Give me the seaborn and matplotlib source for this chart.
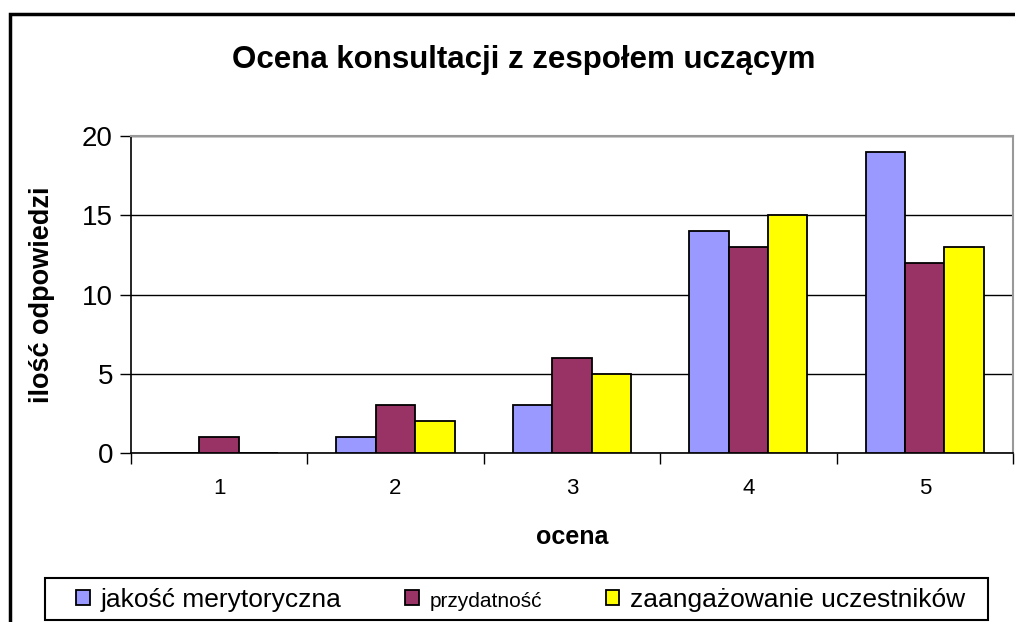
import pandas as pd
import matplotlib
matplotlib.use("Agg")
import matplotlib.pyplot as plt
import matplotlib.patches as mpatches
from matplotlib.ticker import FixedLocator
import seaborn as sns

# data
oceny = ['1', '2', '3', '4', '5']
jakosc = [0, 1, 3, 14, 19]
przydatnosc = [1, 3, 6, 13, 12]
zaangazowanie = [0, 2, 5, 15, 13]
serie = ['jakość merytoryczna', 'przydatność', 'zaangażowanie uczestników']
kolory = ['#9999FF', '#993366', '#FFFF00']

df = pd.DataFrame({
    'ocena': oceny * 3,
    'seria': [s for s in serie for _ in oceny],
    'ilosc': jakosc + przydatnosc + zaangazowanie,
})

sns.set_style('white')
plt.rcParams['font.family'] = ['Liberation Sans', 'DejaVu Sans']
plt.rcParams['text.color'] = 'black'
plt.rcParams['axes.labelcolor'] = 'black'
plt.rcParams['xtick.color'] = 'black'
plt.rcParams['ytick.color'] = 'black'

W, H = 1015, 622
fig = plt.figure(figsize=(W / 100, H / 100), dpi=100)
ax = fig.add_axes([0.129, 0.272, 0.869, 0.509])

sns.barplot(data=df, x='ocena', y='ilosc', hue='seria', order=oceny,
            hue_order=serie, palette=kolory, width=0.67,
            edgecolor='black', linewidth=1.3, saturation=1, ax=ax, zorder=3)

ax.set_ylim(0, 20)
ax.set_xlim(-0.5, 4.5)
ax.set_yticks([0, 5, 10, 15, 20])
ax.yaxis.grid(True, color='black', linewidth=1, zorder=0)
ax.set_axisbelow(True)
ax.tick_params(axis='y', labelsize=20, length=8, width=1, direction='out', pad=5, left=True)
ax.tick_params(axis='x', which='major', labelsize=16, length=0, pad=18)
# tick marks sit between the categories
ax.xaxis.set_minor_locator(FixedLocator([-0.5, 0.5, 1.5, 2.5, 3.5, 4.5]))
ax.tick_params(axis='x', which='minor', length=8, width=1, direction='out', bottom=True)
ax.xaxis.set_ticks_position('bottom')

for side in ['left', 'bottom']:
    ax.spines[side].set_color('black')
    ax.spines[side].set_linewidth(1.2)
for side in ['top', 'right']:
    ax.spines[side].set_color('#999999')
    ax.spines[side].set_linewidth(1.5)
    ax.spines[side].set_visible(True)

ax.set_xlabel('ocena', fontsize=18, fontweight='bold', labelpad=19)
ax.set_ylabel('ilość odpowiedzi', fontsize=19.5, fontweight='bold', labelpad=19)

fig.suptitle('Ocena konsultacji z zespołem uczącym', fontsize=22.5,
             fontweight='bold', y=0.928, x=0.516)

# legend at the bottom, box drawn separately (Excel style padding)
ax.get_legend().remove()
handles = [mpatches.Patch(facecolor=c, edgecolor='black', linewidth=1.3) for c in kolory]
leg = fig.legend(handles, serie, loc='center left', ncol=3,
                 bbox_to_anchor=(76 / W, 1 - 600 / H),
                 frameon=False, handlelength=0.52, handleheight=0.52,
                 handletextpad=0.42, columnspacing=2.4, borderpad=0,
                 borderaxespad=0, fontsize=19)
leg.get_texts()[1].set_fontsize(15)
fig.patches.append(mpatches.Rectangle((45 / W, 1 - 620 / H), 943 / W, 42 / H,
                                      transform=fig.transFigure, fill=False,
                                      edgecolor='black', linewidth=1.5))

# outer chart frame
fig.patches.append(mpatches.Rectangle((10 / W, -0.05), 1.1, 1.05 - 14 / H,
                                      transform=fig.transFigure, fill=False,
                                      edgecolor='black', linewidth=2.5))

fig.savefig('out.png', dpi=100)
